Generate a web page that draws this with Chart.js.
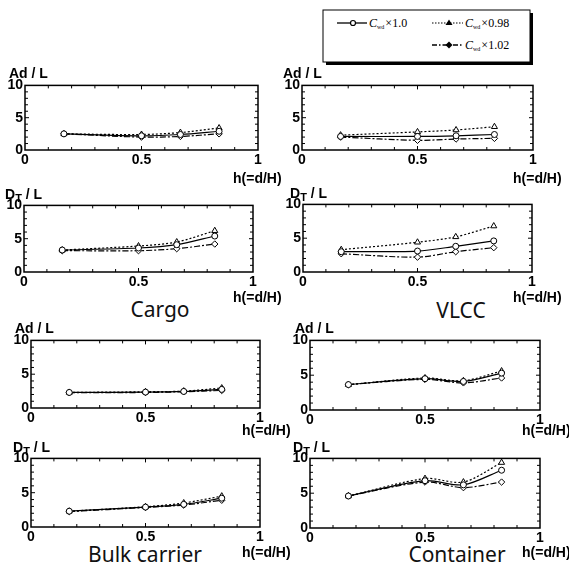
<!DOCTYPE html>
<html>
<head>
<meta charset="utf-8">
<script src="https://cdn.jsdelivr.net/npm/chart.js@4"></script>
<style>
body { margin: 0; background: #fff; }
#wrap { position: relative; width: 569px; height: 565px; overflow: hidden; font-family: "Liberation Sans", Arial, sans-serif; }
canvas { position: absolute; }
.lab { position: absolute; font-weight: bold; font-size: 14px; line-height: 16px; white-space: nowrap; color: #000; transform: translateY(-50%); }
.lab sub { font-size: 11px; vertical-align: -3px; line-height: 0; }
.ship { position: absolute; font-family: "Noto Sans", sans-serif; font-size: 21px; color: #111; white-space: nowrap; transform: translate(-50%, -50%); }
</style>
</head>
<body>
<div id="wrap">
  <svg width="569" height="70" style="position:absolute;left:0;top:0">
    <rect x="326" y="13" width="207" height="52" fill="#000"/>
    <rect x="323" y="10" width="207" height="52" fill="#fff" stroke="#000" stroke-width="1"/>
    <line x1="337" y1="23" x2="367" y2="23" stroke="#000" stroke-width="1.3"/>
    <circle cx="353" cy="23" r="2.5" fill="#fff" stroke="#000" stroke-width="1.2"/>
    <text x="369" y="27" font-family="Liberation Serif" font-size="12"><tspan font-style="italic">C</tspan><tspan font-size="6" dy="2">wd</tspan><tspan dy="-2" dx="1">×1.0</tspan></text>
    <line x1="432" y1="23" x2="463" y2="23" stroke="#000" stroke-width="1.2" stroke-dasharray="1.5,1.5"/>
    <polygon points="449,19.5 452.5,25 445.5,25" fill="#000"/>
    <text x="465" y="27" font-family="Liberation Serif" font-size="12"><tspan font-style="italic">C</tspan><tspan font-size="6" dy="2">wd</tspan><tspan dy="-2" dx="1">×0.98</tspan></text>
    <line x1="432" y1="45" x2="463" y2="45" stroke="#000" stroke-width="1.3" stroke-dasharray="5,2,1.5,2"/>
    <polygon points="449,41.5 452.5,45 449,48.5 445.5,45" fill="#000"/>
    <text x="465" y="49" font-family="Liberation Serif" font-size="12"><tspan font-style="italic">C</tspan><tspan font-size="6" dy="2">wd</tspan><tspan dy="-2" dx="1">×1.02</tspan></text>
  </svg>
  <div class="ship" style="left:160px;top:309px">Cargo</div>
  <div class="ship" style="left:461px;top:310px">VLCC</div>
  <div class="ship" style="left:145px;top:554px">Bulk carrier</div>
  <div class="ship" style="left:457px;top:554px">Container</div>
</div>
<script>
// relative depth h = d/H
const hValues = [0.167, 0.5, 0.667, 0.833];
const xTickLabels = { 0: '0', 0.5: '0.5', 1: '1' };

// Ad / L
const cargoAd100 = [2.5, 2.2, 2.4, 2.9];
const cargoAd098 = [2.5, 2.4, 2.7, 3.4];
const cargoAd102 = [2.5, 2.0, 2.1, 2.5];
const vlccAd100 = [2.1, 2.1, 2.2, 2.4];
const vlccAd098 = [2.3, 2.8, 3.1, 3.6];
const vlccAd102 = [2.0, 1.5, 1.7, 1.8];
const bulkAd100 = [2.3, 2.35, 2.45, 2.75];
const bulkAd098 = [2.3, 2.4, 2.5, 2.95];
const bulkAd102 = [2.25, 2.3, 2.4, 2.6];
const containerAd100 = [3.65, 4.5, 4.1, 5.3];
const containerAd098 = [3.65, 4.6, 4.2, 5.6];
const containerAd102 = [3.65, 4.4, 3.9, 4.6];

// DT / L
const cargoDt100 = [3.3, 3.6, 4.1, 5.4];
const cargoDt098 = [3.3, 3.9, 4.5, 6.2];
const cargoDt102 = [3.2, 3.2, 3.5, 4.2];
const vlccDt100 = [3.0, 3.1, 3.8, 4.6];
const vlccDt098 = [3.3, 4.4, 5.2, 6.8];
const vlccDt102 = [2.7, 2.2, 3.0, 3.6];
const bulkDt100 = [2.3, 2.9, 3.3, 4.2];
const bulkDt098 = [2.3, 2.95, 3.5, 4.5];
const bulkDt102 = [2.25, 2.85, 3.2, 3.9];
const containerDt100 = [4.6, 6.8, 6.2, 8.3];
const containerDt098 = [4.6, 7.1, 6.6, 9.4];
const containerDt102 = [4.6, 6.6, 5.8, 6.6];

// plot box of each panel (page pixels) and where its labels go
const panels = [
  { sets: [cargoAd100, cargoAd098, cargoAd102], y: 'Ad', L: 25, T: 85, R: 258, B: 150, yl: [9, 73], hl: [233, 178] },
  { sets: [vlccAd100, vlccAd098, vlccAd102], y: 'Ad', L: 302, T: 85, R: 533, B: 150, yl: [283, 73], hl: [513, 178] },
  { sets: [cargoDt100, cargoDt098, cargoDt102], y: 'DT', L: 24, T: 205, R: 253, B: 272, yl: [5, 194], hl: [233, 297] },
  { sets: [vlccDt100, vlccDt098, vlccDt102], y: 'DT', L: 303, T: 204, R: 532, B: 272, yl: [290, 193], hl: [513, 297] },
  { sets: [bulkAd100, bulkAd098, bulkAd102], y: 'Ad', L: 31, T: 340, R: 260, B: 408, yl: [15, 328], hl: [242, 430] },
  { sets: [containerAd100, containerAd098, containerAd102], y: 'Ad', L: 310, T: 340, R: 540, B: 410, yl: [295, 328], hl: [522, 430] },
  { sets: [bulkDt100, bulkDt098, bulkDt102], y: 'DT', L: 31, T: 458, R: 260, B: 527, yl: [13, 447], hl: [242, 552] },
  { sets: [containerDt100, containerDt098, containerDt102], y: 'DT', L: 310, T: 458, R: 540, B: 528, yl: [293, 447], hl: [522, 552] }
];

const lineStyles = [
  { borderDash: [], pointStyle: 'circle', pointRadius: 3 },
  { borderDash: [2, 2], pointStyle: 'triangle', pointRadius: 3.5 },
  { borderDash: [6, 2, 2, 2], pointStyle: 'rectRot', pointRadius: 3.2 }
];

const boxTicks = {
  id: 'boxTicks',
  beforeDatasetsDraw(chart) {
    const { ctx, chartArea: a, scales: { x, y } } = chart;
    ctx.save();
    ctx.strokeStyle = '#000';
    ctx.lineWidth = 1.5;
    ctx.strokeRect(a.left, a.top, a.right - a.left, a.bottom - a.top);
    ctx.lineWidth = 1;
    ctx.beginPath();
    for (let i = 1; i < 10; i++) {
      const len = i === 5 ? 4 : 3;
      const px = x.getPixelForValue(i / 10);
      ctx.moveTo(px, a.bottom); ctx.lineTo(px, a.bottom - len);
      ctx.moveTo(px, a.top); ctx.lineTo(px, a.top + len);
      const py = y.getPixelForValue(i);
      ctx.moveTo(a.left, py); ctx.lineTo(a.left + len, py);
      ctx.moveTo(a.right, py); ctx.lineTo(a.right - len, py);
    }
    ctx.stroke();
    ctx.restore();
  }
};

const tickFont = { family: 'Liberation Sans', weight: 'bold', size: 14 };
const wrap = document.getElementById('wrap');

panels.forEach(p => {
  const cv = document.createElement('canvas');
  cv.width = p.R - p.L + 40;
  cv.height = p.B - p.T + 32;
  cv.style.left = (p.L - 25) + 'px';
  cv.style.top = (p.T - 10) + 'px';
  wrap.appendChild(cv);

  new Chart(cv.getContext('2d'), {
    type: 'line',
    data: {
      datasets: p.sets.map((vals, k) => ({
        data: hValues.map((h, i) => ({ x: h, y: vals[i] })),
        borderColor: '#000',
        borderWidth: 1.2,
        tension: 0.3,
        pointBackgroundColor: '#fff',
        pointBorderColor: '#000',
        pointBorderWidth: 1,
        ...lineStyles[k]
      }))
    },
    options: {
      responsive: false,
      animation: false,
      layout: { padding: { top: 10, right: 15, left: 0, bottom: 0 } },
      plugins: { legend: { display: false }, tooltip: { enabled: false } },
      scales: {
        x: {
          type: 'linear', min: 0, max: 1,
          afterFit: s => { s.height = 22; },
          grid: { display: false, drawTicks: false },
          border: { display: false },
          ticks: {
            stepSize: 0.5, padding: 2, color: '#000', font: tickFont, maxRotation: 0,
            callback: v => xTickLabels[v] ?? ''
          }
        },
        y: {
          min: 0, max: 10,
          afterFit: s => { s.width = 25; },
          grid: { display: false, drawTicks: false },
          border: { display: false },
          ticks: { stepSize: 5, padding: 2, color: '#000', font: tickFont }
        }
      }
    },
    plugins: [boxTicks]
  });

  const yl = document.createElement('div');
  yl.className = 'lab';
  yl.style.left = p.yl[0] + 'px';
  yl.style.top = p.yl[1] + 'px';
  yl.innerHTML = p.y === 'Ad' ? 'Ad / L' : 'D<sub>T</sub> / L';
  wrap.appendChild(yl);

  const hl = document.createElement('div');
  hl.className = 'lab';
  hl.style.left = p.hl[0] + 'px';
  hl.style.top = p.hl[1] + 'px';
  hl.textContent = 'h(=d/H)';
  wrap.appendChild(hl);
});
</script>
</body>
</html>
